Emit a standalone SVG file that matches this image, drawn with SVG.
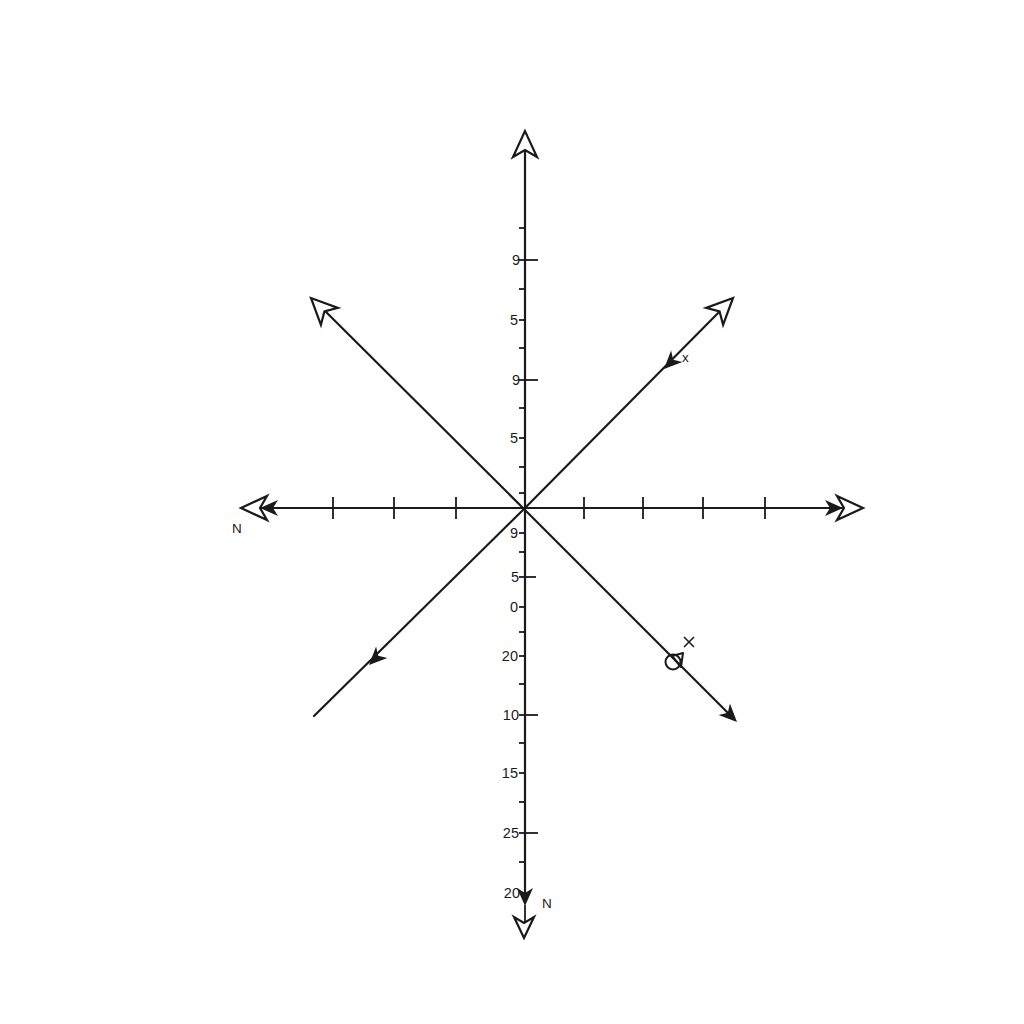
<svg xmlns="http://www.w3.org/2000/svg" width="1024" height="1024" viewBox="0 0 1024 1024">
<style>
.ax{stroke:#1a1a1a;stroke-width:2.2;fill:none;stroke-linecap:round}
.tk{stroke:#1a1a1a;stroke-width:1.8}
.open{fill:#fff;stroke:#1a1a1a;stroke-width:2.2;stroke-linejoin:miter}
.fill{fill:#1a1a1a;stroke:none}
.lbl{font-family:"Liberation Sans",Arial,sans-serif;font-size:14.5px;fill:#1a1a1a;text-anchor:end}
.lbl2{font-family:"Liberation Sans",Arial,sans-serif;font-size:13.5px;fill:#1a1a1a}
</style>
<defs>
<path id="oh" d="M0,0 L-26,-12 L-19,0 L-26,12 Z"/>
<path id="oh2" d="M0,0 L-21,-10 L-15,0 L-21,10 Z"/>
<path id="fh" d="M0,0 L-18,-8 L-13,0 L-18,8 Z"/>
</defs>
<rect width="1024" height="1024" fill="#fff"/>
<g id="connectors">
<line class="ax" x1="525" y1="150" x2="525" y2="902"/>
<line class="tk" x1="525" y1="905" x2="525" y2="922" stroke-width="1.2"/>
<line class="ax" x1="259" y1="508" x2="842" y2="508"/>
<line class="ax" x1="524" y1="509" x2="728" y2="303"/>
<line class="ax" x1="524" y1="509" x2="318" y2="304"/>
<line class="ax" x1="524" y1="509" x2="314" y2="716"/>
<line class="ax" x1="524" y1="509" x2="732" y2="717"/>
</g>
<g id="ticks">
<g class="tk">
<line x1="519" y1="260" x2="538" y2="260"/>
<line x1="519" y1="380" x2="538" y2="380"/>
<line x1="519" y1="577" x2="536" y2="577"/>
<line x1="519" y1="715" x2="538" y2="715"/>
<line x1="519" y1="833" x2="538" y2="833"/>
<line x1="519" y1="228" x2="525" y2="228"/>
<line x1="519" y1="289" x2="525" y2="289"/>
<line x1="519" y1="320" x2="525" y2="320"/>
<line x1="519" y1="348" x2="525" y2="348"/>
<line x1="519" y1="408" x2="525" y2="408"/>
<line x1="519" y1="438" x2="525" y2="438"/>
<line x1="519" y1="467" x2="525" y2="467"/>
<line x1="519" y1="493" x2="525" y2="493"/>
<line x1="519" y1="533" x2="525" y2="533"/>
<line x1="519" y1="552" x2="525" y2="552"/>
<line x1="519" y1="607" x2="525" y2="607"/>
<line x1="519" y1="632" x2="525" y2="632"/>
<line x1="519" y1="656" x2="525" y2="656"/>
<line x1="519" y1="684" x2="525" y2="684"/>
<line x1="519" y1="743" x2="525" y2="743"/>
<line x1="519" y1="773" x2="525" y2="773"/>
<line x1="519" y1="802" x2="525" y2="802"/>
<line x1="519" y1="862" x2="525" y2="862"/>
<line x1="519" y1="893" x2="525" y2="893"/>
<line x1="333" y1="497" x2="333" y2="519"/>
<line x1="394" y1="497" x2="394" y2="519"/>
<line x1="456" y1="497" x2="456" y2="519"/>
<line x1="584" y1="497" x2="584" y2="519"/>
<line x1="643" y1="497" x2="643" y2="519"/>
<line x1="703" y1="497" x2="703" y2="519"/>
<line x1="765" y1="497" x2="765" y2="519"/>
</g>
</g>
<g id="arrowheads">
<use href="#oh" class="open" transform="translate(525,131) rotate(-90)"/>
<use href="#oh2" class="open" transform="translate(524,938) rotate(90)"/>
<use href="#oh" class="open" transform="translate(241,508) rotate(180)"/>
<use href="#oh" class="open" transform="translate(863,508)"/>
<use href="#oh" class="open" transform="translate(733,298) rotate(-45)"/>
<use href="#oh" class="open" transform="translate(311,298) rotate(-135)"/>
<use href="#fh" class="fill" transform="translate(260,508) rotate(180)"/>
<use href="#fh" class="fill" transform="translate(843,508)"/>
<use href="#fh" class="fill" transform="translate(525,906) rotate(90)"/>
<use href="#fh" class="fill" transform="translate(664,369) rotate(135)"/>
<use href="#fh" class="fill" transform="translate(369,665) rotate(135)"/>
<use href="#fh" class="fill" transform="translate(737,722) rotate(45)"/>
</g>
<g id="marker-se">
<circle cx="673" cy="662" r="7.5" fill="none" stroke="#1a1a1a" stroke-width="2"/>
<path d="M672,656 L683,653 L681,667 Z" fill="none" stroke="#1a1a1a" stroke-width="2" stroke-linejoin="round"/>
<path d="M684,637 L694,647 M694,637 L684,647" stroke="#1a1a1a" stroke-width="1.5"/>
</g>
<g id="labels">
<text class="lbl" x="520" y="265">9</text>
<text class="lbl" x="518" y="325">5</text>
<text class="lbl" x="520" y="385">9</text>
<text class="lbl" x="518" y="443">5</text>
<text class="lbl" x="518" y="538">9</text>
<text class="lbl" x="519" y="582">5</text>
<text class="lbl" x="518" y="612">0</text>
<text class="lbl" x="518" y="661">20</text>
<text class="lbl" x="519" y="720">10</text>
<text class="lbl" x="518" y="778">15</text>
<text class="lbl" x="519" y="838">25</text>
<text class="lbl" x="520" y="898">20</text>
<text class="lbl2" x="542" y="908">N</text>
<text class="lbl2" x="232" y="533">N</text>
<text class="lbl2" x="682" y="362">x</text>
</g>
</svg>
